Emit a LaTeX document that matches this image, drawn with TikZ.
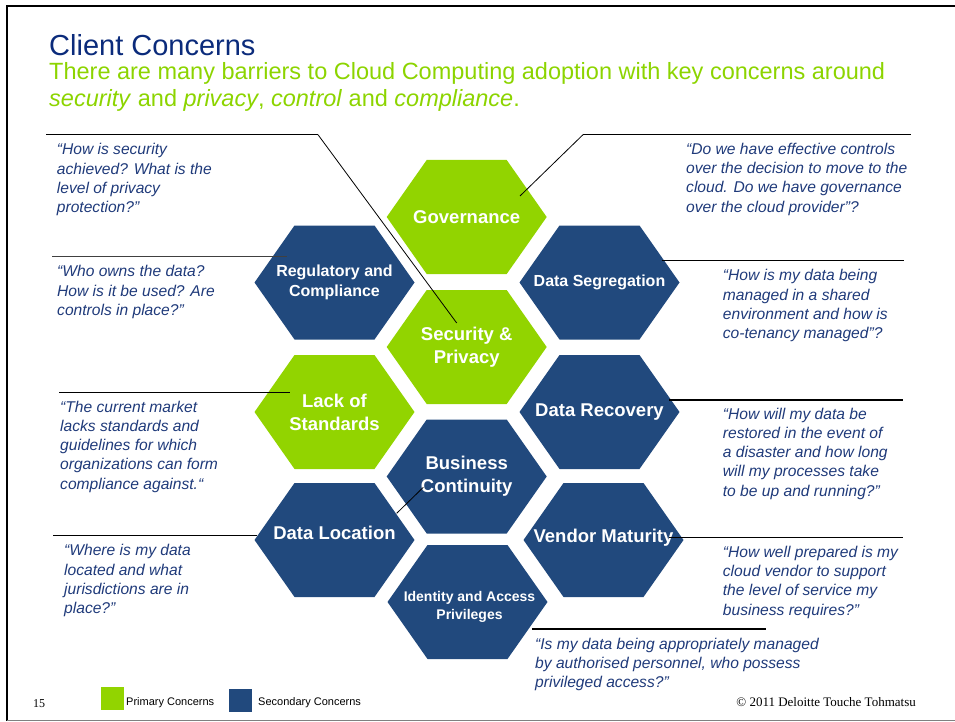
\documentclass[tikz,border=0pt]{standalone}
\usepackage{fontspec}
\setmainfont{Liberation Sans}
\newfontfamily\serifface{Liberation Serif}
\usepackage{tikz}
\usepackage{xcolor}
\usetikzlibrary{positioning, calc}

\definecolor{primgreen}{RGB}{146,212,0}
\definecolor{secblue}{RGB}{33,73,125}
\definecolor{titleblue}{RGB}{11,43,123}
\definecolor{quoteblue}{RGB}{31,58,122}
\definecolor{subgreen}{RGB}{140,212,0}

\tikzset{
  hexlabel/.style={text=white, inner sep=0pt, align=center, font=\bfseries\fontsize{18.5}{23}\selectfont},
  hexsmall/.style={font=\bfseries\fontsize{16}{20.7}\selectfont},
  quotetext/.style={anchor=base west, inner sep=0pt, align=left, text=quoteblue, font=\itshape\fontsize{15.6}{19.3}\selectfont},
  rule/.style={black, line width=1.5pt},
  pointer/.style={black, line width=0.8pt},
  legendtext/.style={anchor=base west, inner sep=0pt, font=\fontsize{11}{13}\selectfont}
}

\begin{document}
\begin{tikzpicture}[x=1pt, y=-1pt]
\useasboundingbox (0,0) rectangle (955,722);

% Slide frame
\draw[black, line width=2.5pt] (955,6) -- (7,6) -- (7,720.5);
\draw[gray, line width=1.5pt] (7,720.5) -- (955,720.5);

% Heading (base anchor = last line)
\node[anchor=base west, inner sep=0pt, text=titleblue, font=\fontsize{29}{33}\selectfont] (title) at (49,55.7) {Client Concerns};
\node[anchor=base west, inner sep=0pt, align=left, text=subgreen, font=\fontsize{23.5}{27}\selectfont] (subtitle) at (49,107)
  {There are many barriers to Cloud Computing adoption with key concerns around\\
   \textit{security} and \textit{privacy}, \textit{control} and \textit{compliance}.};

% Hexagon cells
\foreach \cx/\cy/\col in {466.7/217/primgreen, 334.5/282.5/secblue, 599.5/282.5/secblue,
    466.7/347/primgreen, 334.5/412/primgreen, 599.5/412/secblue, 466.7/476.5/secblue,
    334.5/540/secblue, 603.5/540/secblue, 467.5/602/secblue} {
  \fill[\col] (\cx-80,\cy) -- (\cx-40,\cy-57) -- (\cx+40,\cy-57) -- (\cx+80,\cy)
    -- (\cx+40,\cy+57) -- (\cx-40,\cy+57) -- cycle;
}

% Cell labels
\node[hexlabel] (gov) at (466.7,217) {Governance};
\node[hexlabel, hexsmall] (reg) at (334.5,282.5) {Regulatory and\\Compliance};
\node[hexlabel, hexsmall] (seg) at (599.5,282.5) {Data Segregation};
\node[hexlabel] (sec) at (466.7,347) {Security \&\\Privacy};
\node[hexlabel] (std) at (334.5,412) {Lack of\\Standards};
\node[hexlabel] (rec) at (599.5,412) {Data Recovery};
\node[hexlabel] (bus) at (466.7,476.5) {Business\\Continuity};
\node[hexlabel] (loc) at (334.5,533) {Data Location};
\node[hexlabel] (ven) at (603.5,538) {Vendor Maturity};
\node[hexlabel, font=\bfseries\fontsize{14}{18}\selectfont] (idn) at (469.5,607) {Identity and Access\\Privileges};

% Quotes, left side (placed at the baseline of the last line)
\node[quotetext] (qsec) at (56.7,212.9) {“How is security\\achieved? What is the\\level of privacy\\protection?”};
\node[quotetext] (qreg) at (57,315.3) {“Who owns the data?\\How is it be used? Are\\controls in place?”};
\node[quotetext] (qstd) at (60,489.2) {“The current market\\lacks standards and\\guidelines for which\\organizations can form\\compliance against.“};
\node[quotetext] (qloc) at (64,613.6) {“Where is my data\\located and what\\jurisdictions are in\\place?”};

% Quotes, right side
\node[quotetext] (qgov) at (686,212.2) {“Do we have effective controls\\over the decision to move to the\\cloud. Do we have governance\\over the cloud provider”?};
\node[quotetext] (qseg) at (722.7,338.6) {“How is my data being\\managed in a shared\\environment and how is\\co-tenancy managed”?};
\node[quotetext] (qrec) at (722.7,496.2) {“How will my data be\\restored in the event of\\a disaster and how long\\will my processes take\\to be up and running?”};
\node[quotetext] (qven) at (722.7,615.2) {“How well prepared is my\\cloud vendor to support\\the level of service my\\business requires?”};
\node[quotetext] (qidn) at (535,687.6) {“Is my data being appropriately managed\\by authorised personnel, who possess\\privileged access?”};

% Rules over the quotes
\foreach \nm/\xa/\xb/\y in {sec/46/318/134.7, gov/583/911/134.7, seg/661.7/904/260.7,
    std/59/290/392.7, rec/669/903/400, loc/53/257/535.7, ven/669/903/537.7, idn/532/766/629} {
  \coordinate (\nm-l) at (\xa,\y);
  \coordinate (\nm-r) at (\xb,\y);
  \draw[rule] (\nm-l) -- (\nm-r);
}
\coordinate (reg-l) at (52,256.7);
\coordinate (reg-r) at (286.7,256.7);
\draw[black!75, line width=1pt] (reg-l) -- (reg-r);

% Pointers into the cells
\coordinate (sec-tip) at (456.7,323);
\coordinate (gov-tip) at (520,196);
\coordinate (bus-a) at (396.7,513.3);
\coordinate (bus-b) at (423.3,487.3);
\draw[pointer] (sec-r) -- (sec-tip);
\draw[pointer] (gov-l) -- (gov-tip);
\draw[pointer] (bus-a) -- (bus-b);

% Footer and legend
\node[anchor=base west, inner sep=0pt, font=\serifface\fontsize{12}{14}\selectfont] (pagenum) at (33,707.7) {15};
\fill[primgreen] (101,687) rectangle (124,710);
\node[legendtext] (primary) at (126,705) {Primary Concerns};
\fill[secblue] (229,689) rectangle (252,712);
\node[legendtext] (secondary) at (258,705) {Secondary Concerns};
\node[anchor=base east, inner sep=0pt, font=\serifface\fontsize{13}{15}\selectfont] (copy) at (916,706) {© 2011 Deloitte Touche Tohmatsu};
\end{tikzpicture}
\end{document}
